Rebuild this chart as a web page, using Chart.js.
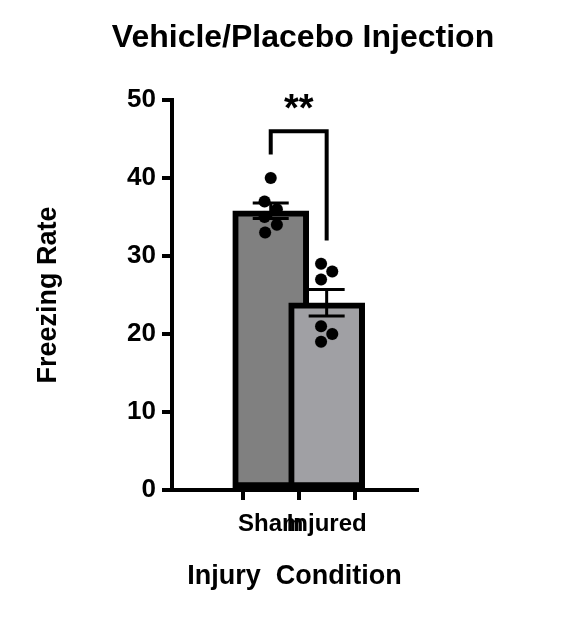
<!DOCTYPE html>
<html><head><meta charset="utf-8">
<script src="https://cdn.jsdelivr.net/npm/chart.js@4"></script>
<style>body{margin:0;background:#fff}#wrap{width:571px;height:631px}</style>
</head><body><div id="wrap"><canvas id="c"></canvas></div>
<script>
const groups = ['Sham', 'Injured'];
const means = [35.8, 24.0];
const sems = [1.0, 1.7];
const shamPoints = [40, 37, 36, 35, 34, 33];
const shamOffsets = [0, -0.11, 0.11, -0.11, 0.11, -0.1];
const injuredPoints = [29, 28, 27, 21, 20, 19];
const injuredOffsets = [-0.1, 0.1, -0.1, -0.1, 0.1, -0.1];
const barColors = ['#808080', '#a0a0a4'];
const bracket = [[0, 43], [0, 46], [1, 46], [1, 32]];

const fam = 'Arial, "Liberation Sans", sans-serif';
const font = { family: fam, weight: 'bold' };

const dots = [];
shamPoints.forEach((v, i) => dots.push({ x: 0 + shamOffsets[i], y: v }));
injuredPoints.forEach((v, i) => dots.push({ x: 1 + injuredOffsets[i], y: v }));

const extras = {
    id: 'extras',
    afterDatasetsDraw(chart) {
        const ctx = chart.ctx, xs = chart.scales.x, ys = chart.scales.y;
        ctx.save();
        ctx.strokeStyle = '#000';
        ctx.lineWidth = 3;
        means.forEach((m, i) => {
            const x = xs.getPixelForValue(i);
            const top = ys.getPixelForValue(m + sems[i]);
            const bot = ys.getPixelForValue(m - sems[i]);
            ctx.beginPath();
            ctx.moveTo(x, top); ctx.lineTo(x, bot);
            ctx.moveTo(x - 18, top); ctx.lineTo(x + 18, top);
            ctx.moveTo(x - 18, bot); ctx.lineTo(x + 18, bot);
            ctx.stroke();
        });
        ctx.fillStyle = '#000';
        ctx.textAlign = 'center';
        ctx.textBaseline = 'middle';
        ctx.font = 'bold 38px ' + fam;
        ctx.fillText('**', xs.getPixelForValue(0.5), ys.getPixelForValue(48.6));
        ctx.font = 'bold 32px ' + fam;
        ctx.fillText('Vehicle/Placebo Injection', 303, 38);
        ctx.restore();
    }
};

new Chart(document.getElementById('c'), {
    type: 'scatter',
    data: {
        datasets: [{
            type: 'scatter',
            data: dots,
            backgroundColor: '#000',
            pointRadius: 6,
            order: 0
        }, {
            type: 'line',
            data: bracket.map(p => ({ x: p[0], y: p[1] })),
            borderColor: '#000',
            borderWidth: 4,
            pointRadius: 0,
            fill: false,
            order: 1
        }, {
            type: 'bar',
            data: means.map((m, i) => ({ x: i, y: m })),
            backgroundColor: barColors,
            borderColor: '#000',
            borderWidth: 6,
            borderSkipped: false,
            barThickness: 76,
            order: 2
        }]
    },
    options: {
        responsive: true,
        maintainAspectRatio: false,
        animation: false,
        layout: { padding: { left: 0, right: 154, top: 100, bottom: 0 } },
        plugins: {
            legend: { display: false },
            tooltip: { enabled: false }
        },
        scales: {
            x: {
                type: 'linear',
                min: -0.67,
                max: 1.52,
                afterBuildTicks: s => { s.ticks = [{ value: 0 }, { value: 1 }]; },
                afterFit: s => { s.height = 141; },
                ticks: {
                    callback: v => groups[v],
                    color: '#000',
                    font: { ...font, size: 24 },
                    padding: 10
                },
                grid: { drawOnChartArea: false, color: '#000', lineWidth: 4, tickLength: 10 },
                border: { color: '#000', width: 4 },
                title: {
                    display: true,
                    text: 'Injury  Condition',
                    color: '#000',
                    font: { ...font, size: 27 },
                    padding: { top: 0, bottom: 38 }
                }
            },
            y: {
                min: 0,
                max: 50,
                afterFit: s => { s.width = 172; },
                ticks: {
                    stepSize: 10,
                    color: '#000',
                    font: { ...font, size: 26 },
                    padding: 6
                },
                grid: { drawOnChartArea: false, color: '#000', lineWidth: 4, tickLength: 10 },
                border: { color: '#000', width: 4 },
                title: {
                    display: true,
                    text: 'Freezing Rate',
                    color: '#000',
                    font: { ...font, size: 27 },
                    padding: { top: 32, bottom: 0 }
                }
            }
        }
    },
    plugins: [extras]
});
</script></body></html>
